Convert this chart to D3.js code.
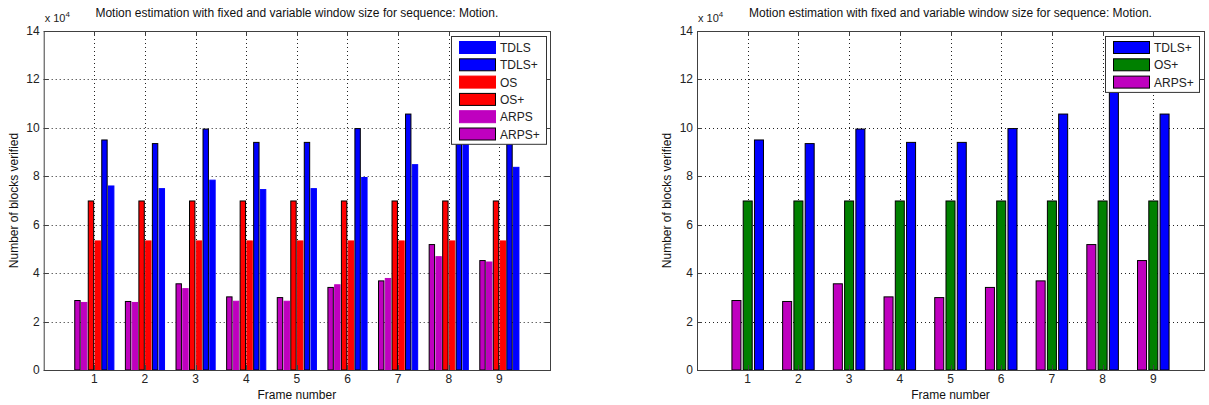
<!DOCTYPE html>
<html>
<head>
<meta charset="utf-8">
<script src="https://cdn.jsdelivr.net/npm/d3@7"></script>
<style>
  body { margin: 0; background: #fff; }
  svg { display: block; font-family: "Liberation Sans", Arial, sans-serif; }
  .tick-label { font-size: 12px; fill: #222; }
  .ax-title { font-size: 12px; fill: #111; }
</style>
</head>
<body>
<div id="chart"></div>
<script>
// values in units of 10^4 blocks
var frames = [1, 2, 3, 4, 5, 6, 7, 8, 9];
var tdls      = [7.60, 7.49, 7.84, 7.45, 7.49, 7.95, 8.48, 9.90, 8.37];
var tdlsPlus  = [9.50, 9.35, 9.95, 9.40, 9.40, 9.97, 10.57, 11.70, 10.57];
var os        = [5.33, 5.33, 5.33, 5.33, 5.33, 5.33, 5.33, 5.33, 5.33];
var osPlus    = [6.98, 6.98, 6.98, 6.98, 6.98, 6.98, 6.98, 6.98, 6.98];
var arps      = [2.79, 2.79, 3.36, 2.84, 2.84, 3.52, 3.78, 4.68, 4.46];
var arpsPlus  = [2.87, 2.83, 3.56, 3.02, 2.99, 3.41, 3.68, 5.18, 4.52];
var yTicks = [0, 2, 4, 6, 8, 10, 12, 14];
var titleText = "Motion estimation with fixed and variable window size for sequence: Motion.";

var svgWidth = 1209;
var svgHeight = 405;

var svg = d3.select("#chart")
  .append("svg")
  .attr("width", svgWidth)
  .attr("height", svgHeight);

// left panel: all six methods, right panel: only the "+" ones
var leftSeries = [
  { name: "ARPS+", values: arpsPlus, fill: "#bf00bf", edge: "#000" },
  { name: "ARPS",  values: arps,     fill: "#bf00bf", edge: null },
  { name: "OS+",   values: osPlus,   fill: "#ff0000", edge: "#000" },
  { name: "OS",    values: os,       fill: "#ff0000", edge: null },
  { name: "TDLS+", values: tdlsPlus, fill: "#0000ff", edge: "#000" },
  { name: "TDLS",  values: tdls,     fill: "#0000ff", edge: null }
];
var leftLegend = ["TDLS", "TDLS+", "OS", "OS+", "ARPS", "ARPS+"];

var rightSeries = [
  { name: "ARPS+", values: arpsPlus, fill: "#bf00bf", edge: "#000" },
  { name: "OS+",   values: osPlus,   fill: "#008000", edge: "#000" },
  { name: "TDLS+", values: tdlsPlus, fill: "#0000ff", edge: "#000" }
];
var rightLegend = ["TDLS+", "OS+", "ARPS+"];

function drawPanel(left, right, series, legendNames, legendBox) {
  var top = 31, bottom = 370;
  var g = svg.append("g");

  var x = d3.scaleLinear().domain([0, 10]).range([left, right]);
  var y = d3.scaleLinear().domain([0, 14]).range([bottom, top]);

  // grid (dotted)
  g.append("g").selectAll("line.gx")
    .data(frames).enter().append("line")
    .attr("x1", d => Math.round(x(d)) + 0.5).attr("x2", d => Math.round(x(d)) + 0.5)
    .attr("y1", top).attr("y2", bottom)
    .attr("stroke", "#222").attr("stroke-dasharray", "1,3");
  g.append("g").selectAll("line.gy")
    .data(yTicks.slice(1, -1)).enter().append("line")
    .attr("x1", left).attr("x2", right)
    .attr("y1", d => Math.round(y(d)) + 0.5).attr("y2", d => Math.round(y(d)) + 0.5)
    .attr("stroke", "#222").attr("stroke-dasharray", "1,3");

  // grouped bars, matlab style
  var n = series.length;
  var groupW = Math.min(0.8, n / (n + 1.5));
  var slot = groupW / n;
  var barW = slot * 0.8;
  series.forEach(function(s, i) {
    var off = (i - (n - 1) / 2) * slot;
    g.append("g").selectAll("rect")
      .data(frames).enter().append("rect")
      .attr("x", (d, j) => x(d + off - barW / 2))
      .attr("width", x(barW) - x(0))
      .attr("y", (d, j) => y(s.values[j]))
      .attr("height", (d, j) => y(0) - y(s.values[j]))
      .attr("fill", s.fill)
      .attr("stroke", s.edge || s.fill)
      .attr("stroke-width", 1);
  });

  // box + ticks
  g.append("rect")
    .attr("x", left + 0.5).attr("y", top + 0.5)
    .attr("width", right - left).attr("height", bottom - top)
    .attr("fill", "none").attr("stroke", "#404040");

  var tl = 5;
  yTicks.forEach(function(t) {
    var yy = Math.round(y(t)) + 0.5;
    g.append("line").attr("x1", left).attr("x2", left + tl).attr("y1", yy).attr("y2", yy).attr("stroke", "#404040");
    g.append("line").attr("x1", right - tl).attr("x2", right).attr("y1", yy).attr("y2", yy).attr("stroke", "#404040");
    g.append("text").attr("class", "tick-label")
      .attr("x", left - 4).attr("y", y(t) + 4)
      .attr("text-anchor", "end").text(t);
  });
  frames.forEach(function(f) {
    var xx = Math.round(x(f)) + 0.5;
    g.append("line").attr("x1", xx).attr("x2", xx).attr("y1", bottom - tl).attr("y2", bottom).attr("stroke", "#404040");
    g.append("line").attr("x1", xx).attr("x2", xx).attr("y1", top).attr("y2", top + tl).attr("stroke", "#404040");
    g.append("text").attr("class", "tick-label")
      .attr("x", x(f)).attr("y", bottom + 13)
      .attr("text-anchor", "middle").text(f);
  });

  // exponent label
  var ex = g.append("text").attr("class", "tick-label")
    .attr("x", left + 1).attr("y", 22).style("font-size", "11px");
  ex.append("tspan").text("x 10");
  ex.append("tspan").attr("dy", -5).style("font-size", "8px").text("4");

  // titles
  g.append("text").attr("class", "ax-title")
    .attr("x", (left + right) / 2).attr("y", 17)
    .attr("text-anchor", "middle").text(titleText);
  g.append("text").attr("class", "ax-title")
    .attr("x", (left + right) / 2).attr("y", 399)
    .attr("text-anchor", "middle").text("Frame number");
  g.append("text").attr("class", "ax-title")
    .attr("transform", `translate(${left - 26}, ${(top + bottom) / 2}) rotate(-90)`)
    .attr("text-anchor", "middle").text("Number of blocks verified");

  // legend
  var lg = g.append("g");
  lg.append("rect")
    .attr("x", legendBox.x + 0.5).attr("y", legendBox.y + 0.5)
    .attr("width", legendBox.w).attr("height", legendNames.length * 17.3 + 4)
    .attr("fill", "#fff").attr("stroke", "#333");
  legendNames.forEach(function(name, k) {
    var s = series.find(d => d.name === name);
    var ry = legendBox.y + 5 + k * 17.3;
    lg.append("rect")
      .attr("x", legendBox.x + 8.5).attr("y", ry + 0.5)
      .attr("width", 36).attr("height", 12)
      .attr("fill", s.fill).attr("stroke", s.edge || s.fill);
    lg.append("text").attr("class", "tick-label")
      .attr("x", legendBox.x + 49).attr("y", ry + 11)
      .text(name);
  });
}

drawPanel(43.7, 550, leftSeries, leftLegend, { x: 451, y: 36, w: 95 });
drawPanel(697, 1204, rightSeries, rightLegend, { x: 1105, y: 36, w: 94 });
</script>
</body>
</html>
